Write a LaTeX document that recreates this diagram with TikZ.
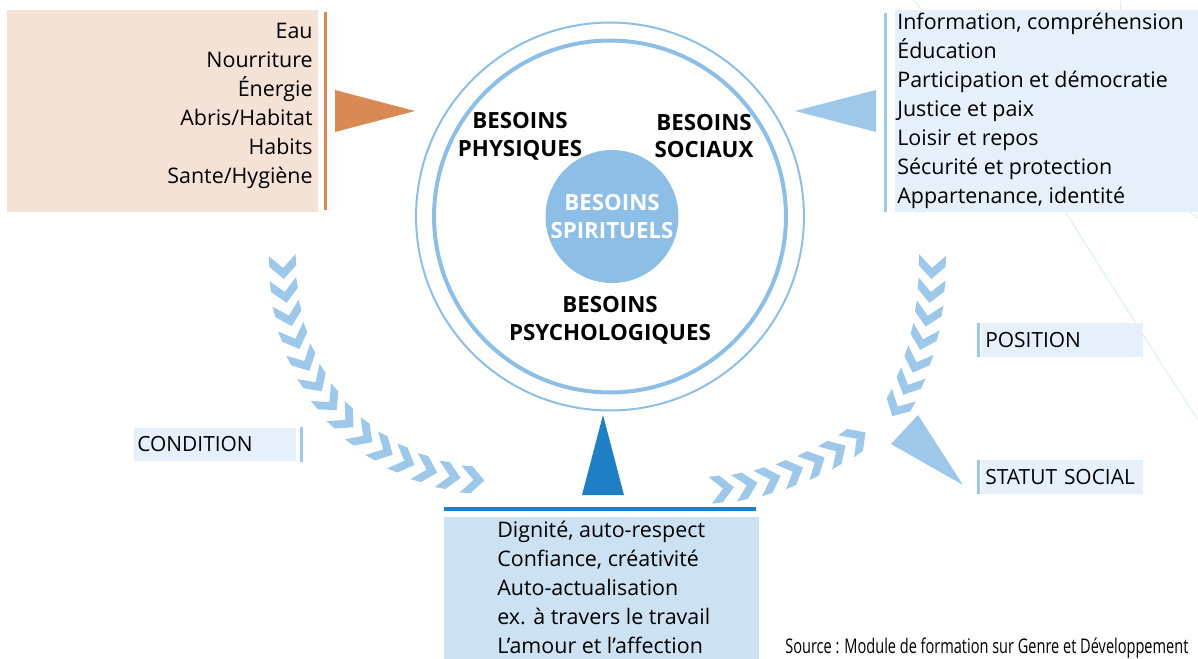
\documentclass[tikz,border=0pt]{standalone}
\usepackage{fontspec}
\setmainfont{Open Sans}
\usetikzlibrary{positioning, decorations.markings}

\definecolor{peach}{HTML}{F5E2D7}
\definecolor{orangebar}{HTML}{D98A54}
\definecolor{paleblue}{HTML}{E5F0FA}
\definecolor{midblue}{HTML}{9DC8EA}
\definecolor{ringblue}{HTML}{8DBEE6}
\definecolor{boxblue}{HTML}{CCE2F2}
\definecolor{darkblue}{HTML}{1F7FC4}
\definecolor{faint}{HTML}{C8E9F3}

\begin{document}
\begin{tikzpicture}[
    x=0.02cm, y=-0.02cm,
    list/.style={font=\fontsize{12.2}{16.44}\selectfont, inner sep=0pt},
    need/.style={font=\bfseries\fontsize{12.7}{15.87}\selectfont, align=center, inner sep=0pt},
    tag/.style={fill=paleblue, font=\fontsize{11.9}{14}\selectfont, anchor=west,
        minimum height=0.68cm, text width=3.12cm, align=left, inner xsep=0.06cm, inner ysep=0pt},
    bar/.style={line width=0.06cm},
    chevrons/.style={postaction={decorate}, decoration={markings,
        mark=between positions 0.4cm and 1 step 0.48cm with {
          \fill[midblue] (1,0) -- (-12,13.5) -- (-23,13.5) -- (-10,0) -- (-23,-13.5) -- (-12,-13.5) -- cycle;}}}
]
\useasboundingbox (0,0) rectangle (1198,659);

% Background curves
\draw[faint, line width=0.012cm] (1121,0) .. controls (1112,120) and (1150,185) .. (1198,218);
\draw[faint, line width=0.012cm] (913,0) .. controls (990,80) and (1080,240) .. (1198,420);

% Physical needs
\node[fill=peach, minimum width=6.22cm, minimum height=4.04cm, inner sep=0pt] (physbox) at (162.5,111) {};
\node[list, align=right, anchor=north east] (physlist) at (313,23) {Eau\\Nourriture\\Énergie\\Abris/Habitat\\Habits\\Sante/Hygiène};
\draw[bar, orangebar] ([xshift=0.14cm, yshift=-0.04cm]physbox.north east) -- ([xshift=0.14cm, yshift=0.04cm]physbox.south east);
\fill[orangebar] (335,90) -- (335,132) -- (415,111) -- cycle;

% Social needs
\node[fill=paleblue, minimum width=6.06cm, minimum height=4.04cm, inner sep=0pt] (socbox) at (1046.5,111) {};
\node[list, align=left, anchor=north west] (soclist) at (897,13) {Information, compréhension\\Éducation\\Participation et démocratie\\Justice et paix\\Loisir et repos\\Sécurité et protection\\Appartenance, identité};
\draw[bar, midblue] ([xshift=-0.19cm, yshift=-0.06cm]socbox.north west) -- ([xshift=-0.19cm]socbox.south west);
\fill[midblue] (795,111) -- (876,90) -- (876,132) -- cycle;

% Rings
\node[circle, draw=ringblue, line width=0.04cm, minimum size=7.76cm, inner sep=0pt] (outer) at (610,216.5) {};
\node[circle, draw=ringblue, line width=0.08cm, minimum size=7.04cm, inner sep=0pt] (inner) at (610,216.5) {};
\node[circle, fill=ringblue, minimum size=2.66cm, inner sep=0pt, need, text=white] (spirit) at (612,216.5) {BESOINS\\SPIRITUELS};
\node[need] (phys) at (520,136) {BESOINS\\PHYSIQUES};
\node[need] (soc) at (704,136) {BESOINS\\SOCIAUX};
\node[need] (psych) at (610,320) {BESOINS\\PSYCHOLOGIQUES};

% Psychological needs
\fill[darkblue] (603,415) -- (624,495) -- (582,495) -- cycle;
\node[fill=boxblue, anchor=north west, minimum width=6.3cm, minimum height=3cm, inner sep=0pt] (psybox) at (444,517) {};
\node[list, align=left, anchor=north west] (psylist) at (497,521) {Dignité, auto-respect\\Confiance, créativité\\Auto-actualisation\\ex. à travers le travail\\L’amour et l’affection};
\draw[bar, darkblue, line width=0.08cm] ([yshift=0.16cm]psybox.north west) -- ([xshift=-0.08cm, yshift=0.16cm]psybox.north east);

% Labels
\node[tag, inner xsep=0.06cm] (cond) at (134,444.5) {CONDITION};
\draw[bar, midblue] ([xshift=0.1cm]cond.north east) -- ([xshift=0.1cm]cond.south east);
\node[tag, text width=3.08cm, inner xsep=0.08cm] (pos) at (981,340) {POSITION};
\draw[bar, midblue] ([xshift=-0.06cm]pos.north west) -- ([xshift=-0.06cm]pos.south west);
\node[tag, text width=3.08cm, inner xsep=0.08cm] (stat) at (981,477) {STATUT SOCIAL};
\draw[bar, midblue] ([xshift=-0.06cm]stat.north west) -- ([xshift=-0.06cm]stat.south west);
\fill[midblue] (918,415) -- (963,485) -- (891,444) -- cycle;

% Chevron arcs
\coordinate (lt) at (283,258);
\coordinate (lb) at (499,481);
\coordinate (rt) at (932,258);
\coordinate (rj) at (889,422);
\coordinate (rb) at (713,489);
\coordinate (rk) at (874,426);
\path[chevrons] (lt) .. controls +(0,140) and +(-115,0) .. (lb);
\path[chevrons] (rt) .. controls +(0,80) and +(20,-35) .. (rj);
\path[chevrons] (rb) .. controls +(60,-2) and +(-38,30) .. (rk);

% Source
\node[anchor=base west, inner sep=0pt, font=\fontsize{11.5}{13}\selectfont] (src) at (785,653) {\scalebox{0.72}[1]{Source : Module de formation sur Genre et Développement}};
\end{tikzpicture}
\end{document}
